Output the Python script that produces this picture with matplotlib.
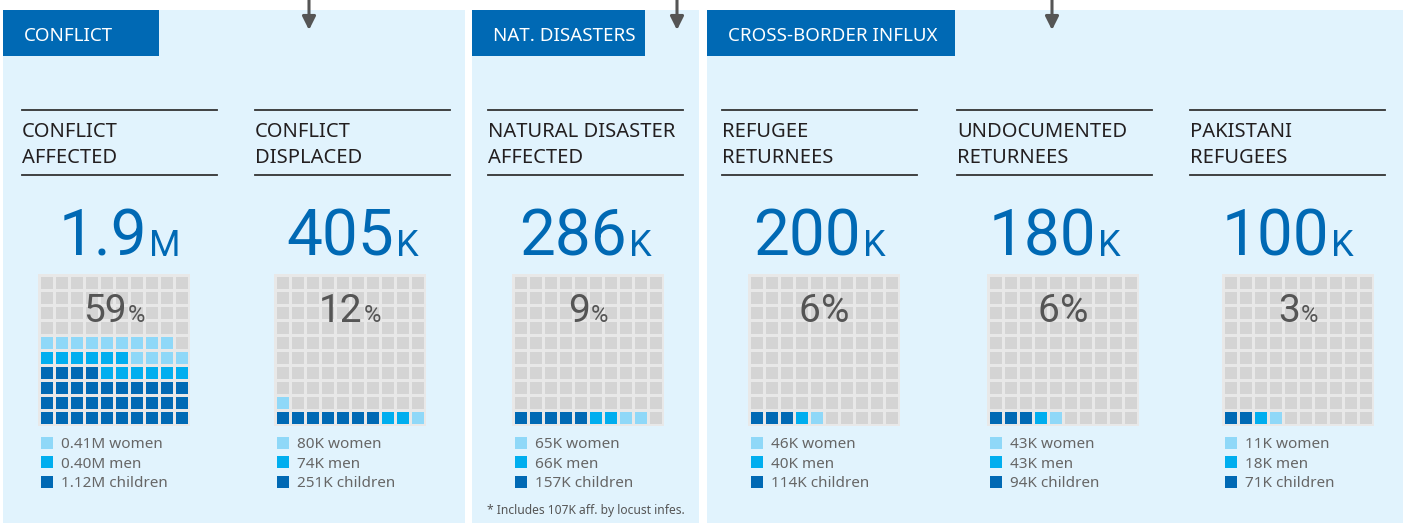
import matplotlib

matplotlib.use("Agg")
import matplotlib.pyplot as plt
from matplotlib.patches import Rectangle

W, H = 1407, 523

GROUPS = ["CONFLICT", "NAT. DISASTERS", "CROSS-BORDER INFLUX"]
TITLES = [
    "CONFLICT\nAFFECTED",
    "CONFLICT\nDISPLACED",
    "NATURAL DISASTER\nAFFECTED",
    "REFUGEE\nRETURNEES",
    "UNDOCUMENTED\nRETURNEES",
    "PAKISTANI\nREFUGEES",
]
TOTALS = ["1.9", "405", "286", "200", "180", "100"]
UNITS = ["M", "K", "K", "K", "K", "K"]
PCT = ["59", "12", "9", "6", "6", "3"]
# cells filled in each 10x10 waffle (bottom row first, left to right)
CHILDREN_CELLS = [34, 7, 5, 3, 3, 2]
MEN_CELLS = [12, 2, 2, 1, 1, 1]
WOMEN_CELLS = [13, 2, 2, 1, 1, 1]
WOMEN = ["0.41M", "80K", "65K", "46K", "43K", "11K"]
MEN = ["0.40M", "74K", "66K", "40K", "43K", "18K"]
CHILDREN = ["1.12M", "251K", "157K", "114K", "94K", "71K"]
FOOTNOTE = "* Includes 107K aff. by locust infes."

PANEL_BG = "#e1f3fd"
DARK_BLUE = "#0069b4"
C_WOMEN = "#8fd8f8"
C_MEN = "#00aeef"
C_CHILD = "#0069b4"
GREY_CELL = "#d4d4d4"
GREY_BG = "#e8e8e8"
NARROW = dict(family=["Noto Sans", "DejaVu Sans"])
NUMS = dict(family=["Roboto", "DejaVu Sans"])

# layout (pixels)
panels = [(3, 465), (472, 699), (707, 1403)]
tabs = [(3, 159), (472, 645), (707, 955)]
arrows_x = [309, 677, 1052]
cols = [22, 255, 488, 722, 957, 1190]
col_w = 195
grid_left = [38, 274, 512, 748, 987, 1222]
grid_top = 274
step = 15.0
cell = 12.0

fig = plt.figure(figsize=(W / 100, H / 100), dpi=100)
ax = fig.add_axes([0, 0, 1, 1])
ax.set_xlim(0, W)
ax.set_ylim(H, 0)
ax.axis("off")
renderer = fig.canvas.get_renderer()


def centered_pair(cx, y, big, small, big_kw, small_kw, gap=1):
    t1 = ax.text(0, y, big, ha="left", va="baseline", **big_kw)
    t2 = ax.text(0, y, small, ha="left", va="baseline", **small_kw)
    w1 = t1.get_window_extent(renderer).width
    w2 = t2.get_window_extent(renderer).width
    x0 = cx - (w1 + w2 + gap) / 2
    t1.set_x(x0)
    t2.set_x(x0 + w1 + gap)


for (x0, x1), (t0, t1), name, axx in zip(panels, tabs, GROUPS, arrows_x):
    ax.add_patch(Rectangle((x0, 10), x1 - x0, H - 10, color=PANEL_BG, lw=0))
    ax.add_patch(Rectangle((t0, 10), t1 - t0, 46, color=DARK_BLUE, lw=0))
    ax.text(t0 + 21, 41, name, color="white", fontsize=13.5, va="baseline", **NARROW)
    ax.annotate("", xy=(axx, 30), xytext=(axx, -2),
                arrowprops=dict(arrowstyle="-|>", color="#555555", lw=2.2,
                                mutation_scale=20, shrinkA=0, shrinkB=0))

for i in range(6):
    cx = cols[i] + col_w / 2
    ax.plot([cols[i], cols[i] + col_w], [110, 110], color="#333333", lw=1.3)
    ax.plot([cols[i], cols[i] + col_w], [175, 175], color="#333333", lw=1.3)
    line1, line2 = TITLES[i].split("\n")
    ax.text(cols[i], 137, line1, fontsize=14.5, color="#231f20", va="baseline", **NARROW)
    ax.text(cols[i], 163, line2, fontsize=14.5, color="#231f20", va="baseline", **NARROW)

    centered_pair(cx, 256, TOTALS[i], UNITS[i],
                  dict(fontsize=46, color=DARK_BLUE, **NUMS),
                  dict(fontsize=26, color=DARK_BLUE, **NUMS), gap=2)

    gl = grid_left[i]
    ax.add_patch(Rectangle((gl, grid_top), 152, 152, color=GREY_BG, lw=0))
    colors = ([C_CHILD] * CHILDREN_CELLS[i] + [C_MEN] * MEN_CELLS[i]
              + [C_WOMEN] * WOMEN_CELLS[i])
    for k in range(100):
        r, c = divmod(k, 10)
        fc = colors[k] if k < len(colors) else GREY_CELL
        x = gl + 3 + c * step
        y = grid_top + 3 + (9 - r) * step
        ax.add_patch(Rectangle((x, y), cell, cell, color=fc, lw=0))

    pct_big = PCT[i] == "6"
    centered_pair(gl + 76, 322, PCT[i], "%",
                  dict(fontsize=28, color="#555555", **NUMS),
                  dict(fontsize=28 if pct_big else 17, color="#555555", **NUMS))

    for j, (val, word, col) in enumerate([(WOMEN[i], "women", C_WOMEN),
                                          (MEN[i], "men", C_MEN),
                                          (CHILDREN[i], "children", C_CHILD)]):
        yy = 437 + j * 19.3
        ax.add_patch(Rectangle((gl + 3, yy), 12, 12, color=col, lw=0))
        ax.text(gl + 23, yy + 11.5, f"{val} {word}", fontsize=11,
                color="#666666", va="baseline", **NARROW)

ax.text(585.5, 514, FOOTNOTE, fontsize=8.7, color="#555555",
        ha="center", va="baseline", **NARROW)

fig.savefig("out.png", dpi=100, facecolor="white")
